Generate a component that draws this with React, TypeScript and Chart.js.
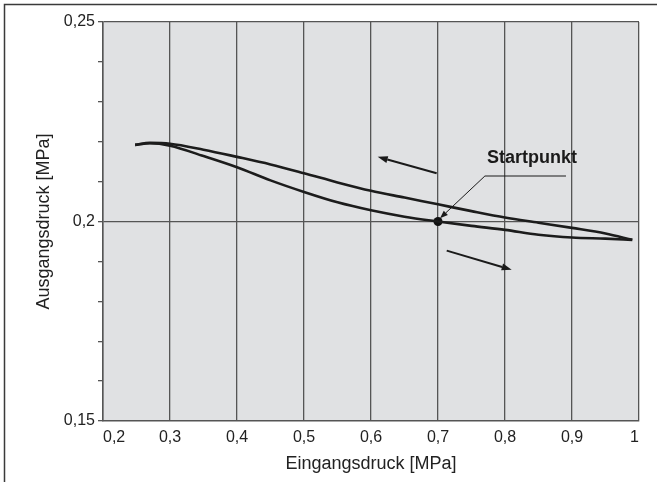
import React, { useEffect, useRef } from "react";
import { Chart, registerables } from "chart.js";

Chart.register(...registerables);

// Eingangsdruck [MPa]
const inputPressure = [0.248, 0.27, 0.3, 0.35, 0.4, 0.45, 0.5, 0.55, 0.6, 0.65, 0.7, 0.75, 0.8, 0.85, 0.9, 0.95, 0.99];
// Ausgangsdruck bei fallendem Eingangsdruck (obere Kurve)
const outputFalling = [0.2192, 0.2197, 0.2195, 0.218, 0.2162, 0.2143, 0.2121, 0.2098, 0.2077, 0.206, 0.2043, 0.2026, 0.201, 0.1997, 0.1984, 0.197, 0.1954];
// Ausgangsdruck bei steigendem Eingangsdruck (untere Kurve)
const outputRising = [0.2192, 0.2196, 0.219, 0.2164, 0.2136, 0.2103, 0.2074, 0.2048, 0.2028, 0.2012, 0.2, 0.1989, 0.1979, 0.1967, 0.196, 0.1957, 0.1954];

const startX = [0.7];
const startY = [0.2];

const xTicks = [0.2, 0.3, 0.4, 0.5, 0.6, 0.7, 0.8, 0.9, 1];
const yLabelled = [0.15, 0.2, 0.25];

// annotation anchors in data units
const arrowFalling = { from: [0.698, 0.2121], to: [0.61, 0.2162] };
const arrowRising = { from: [0.713, 0.1927], to: [0.81, 0.1879] };
const leaderPath = [[0.891, 0.2114], [0.77, 0.2114], [0.703, 0.2008]];
const startLabel = { text: "Startpunkt", x: 0.8403, y: 0.2159 };

const FONT = "'Liberation Sans', Arial, Helvetica, sans-serif";
const GRID = "#555";

const fmt = (v: number) => {
  const r = Math.round(v * 100) / 100;
  return String(r).replace(".", ",");
};

const decorPlugin = {
  id: "decor",
  beforeDraw(chart: any) {
    const { ctx, chartArea } = chart;
    ctx.save();
    ctx.fillStyle = "#ffffff";
    ctx.fillRect(0, 0, chart.width, chart.height);
    ctx.fillStyle = "#e0e1e3";
    ctx.fillRect(chartArea.left, chartArea.top, chartArea.right - chartArea.left, chartArea.bottom - chartArea.top);
    ctx.strokeStyle = "#3a3a3a";
    ctx.lineWidth = 1.5;
    ctx.strokeRect(4.5, 4.5, chart.width + 20, chart.height + 20);
    ctx.restore();
  },
  afterDatasetsDraw(chart: any) {
    const { ctx } = chart;
    const xs = chart.scales.x;
    const ys = chart.scales.y;
    const px = (p: number[]) => [xs.getPixelForValue(p[0]), ys.getPixelForValue(p[1])];
    ctx.save();
    const arrow = (a: number[], b: number[], lw: number, head: number, hw: number) => {
      const ang = Math.atan2(b[1] - a[1], b[0] - a[0]);
      const bx = b[0] - Math.cos(ang) * head;
      const by = b[1] - Math.sin(ang) * head;
      ctx.strokeStyle = "#1a1a1a";
      ctx.lineWidth = lw;
      ctx.beginPath();
      ctx.moveTo(a[0], a[1]);
      ctx.lineTo(bx, by);
      ctx.stroke();
      ctx.fillStyle = "#1a1a1a";
      ctx.beginPath();
      ctx.moveTo(b[0], b[1]);
      ctx.lineTo(bx + Math.sin(ang) * hw, by - Math.cos(ang) * hw);
      ctx.lineTo(bx - Math.sin(ang) * hw, by + Math.cos(ang) * hw);
      ctx.closePath();
      ctx.fill();
    };
    arrow(px(arrowFalling.from), px(arrowFalling.to), 2, 10, 3.5);
    arrow(px(arrowRising.from), px(arrowRising.to), 2, 10, 3.5);
    // leader line
    const pts = leaderPath.map(px);
    ctx.strokeStyle = "#1a1a1a";
    ctx.lineWidth = 1;
    ctx.beginPath();
    ctx.moveTo(pts[0][0], pts[0][1]);
    ctx.lineTo(pts[1][0], pts[1][1]);
    ctx.stroke();
    arrow(pts[1], pts[2], 1, 8, 3);
    // label
    const lp = px([startLabel.x, startLabel.y]);
    ctx.fillStyle = "#1a1a1a";
    ctx.font = `bold 18px ${FONT}`;
    ctx.textAlign = "center";
    ctx.textBaseline = "middle";
    ctx.fillText(startLabel.text, lp[0], lp[1]);
    ctx.restore();
  },
};

export default function App() {
  const ref = useRef<HTMLCanvasElement | null>(null);
  useEffect(() => {
    if (!ref.current) return;
    const chart = new Chart(ref.current, {
      type: "line",
      data: {
        datasets: [
          {
            label: "fallend",
            data: inputPressure.map((x, i) => ({ x, y: outputFalling[i] })),
            borderColor: "#1c1c1c",
            borderWidth: 2.6,
            pointRadius: 0,
            cubicInterpolationMode: "monotone",
          },
          {
            label: "steigend",
            data: inputPressure.map((x, i) => ({ x, y: outputRising[i] })),
            borderColor: "#1c1c1c",
            borderWidth: 2.6,
            pointRadius: 0,
            cubicInterpolationMode: "monotone",
          },
          {
            label: "Startpunkt",
            data: startX.map((x, i) => ({ x, y: startY[i] })),
            showLine: false,
            pointRadius: 4.5,
            pointBackgroundColor: "#111",
            pointBorderColor: "#111",
            pointBorderWidth: 0,
          },
        ],
      },
      options: {
        responsive: false,
        animation: false,
        layout: { padding: { left: 0, right: 18, top: 22, bottom: 0 } },
        plugins: { legend: { display: false }, tooltip: { enabled: false } },
        scales: {
          x: {
            type: "linear",
            min: 0.2,
            max: 1,
            afterFit: (s: any) => { s.height = 61; },
            afterBuildTicks: (s: any) => { s.ticks = xTicks.map((v) => ({ value: v })); },
            ticks: {
              align: "inner",
              padding: 7,
              color: "#222",
              font: { family: FONT, size: 16 },
              callback: (v: any) => fmt(Number(v)),
            },
            grid: { color: GRID, lineWidth: 1.3, drawTicks: false },
            border: { display: true, color: GRID, width: 1.5 },
            title: {
              display: true,
              text: "Eingangsdruck [MPa]",
              color: "#222",
              font: { family: FONT, size: 18 },
              padding: { top: 0, bottom: 7 },
            },
          },
          y: {
            type: "linear",
            min: 0.15,
            max: 0.25,
            afterFit: (s: any) => { s.width = 103; },
            afterBuildTicks: (s: any) => {
              const t = [];
              for (let k = 15; k <= 25; k++) t.push({ value: k / 100 });
              s.ticks = t;
            },
            ticks: {
              padding: 3,
              color: "#222",
              font: { family: FONT, size: 16 },
              callback: (v: any) => {
                const n = Number(v);
                return yLabelled.some((l) => Math.abs(l - n) < 1e-6) ? fmt(n) : "";
              },
            },
            grid: {
              color: (c: any) => {
                const v = c.tick ? c.tick.value : 0;
                return Math.abs(v - 0.2) < 1e-6 || Math.abs(v - 0.25) < 1e-6 ? GRID : "rgba(0,0,0,0)";
              },
              lineWidth: 1.3,
              drawTicks: true,
              tickLength: 5,
              tickColor: GRID,
              tickWidth: 1.3,
            },
            border: { display: true, color: GRID, width: 1.5 },
            title: {
              display: true,
              text: "Ausgangsdruck [MPa]",
              color: "#222",
              font: { family: FONT, size: 18 },
              padding: { top: 33, bottom: 0 },
            },
          },
        },
      },
      plugins: [decorPlugin],
    } as any);
    return () => chart.destroy();
  }, []);
  return (
    <div style={{ position: "absolute", left: 0, top: 0, width: 657, height: 482 }}>
      <canvas ref={ref} width={657} height={482} style={{ display: "block", width: 657, height: 482 }} />
    </div>
  );
}
